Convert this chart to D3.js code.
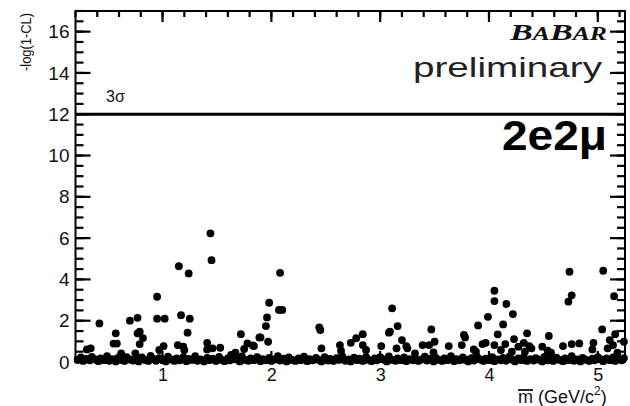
<!DOCTYPE html>
<html>
<head>
<meta charset="utf-8">
<script src="https://cdn.jsdelivr.net/npm/d3@7"></script>
<style>
  body { margin: 0; background: #fff; }
  svg { display: block; font-family: "Liberation Sans", Arial, sans-serif; }
</style>
</head>
<body>
<svg id="chart" width="630" height="406"></svg>
<script>
// points that stand out above the band (mass in GeV/c2, -log(1-CL))
const peaks = [
  [0.42, 1.87], [0.305, 0.61], [0.34, 0.66], [0.57, 1.39], [0.58, 0.89], [0.55, 0.89],
  [0.70, 2.00], [0.77, 2.14], [0.77, 1.39], [0.79, 1.47], [0.82, 1.16], [0.79, 0.87],
  [0.62, 0.42], [0.75, 0.42], [0.95, 3.16], [0.95, 2.10], [1.02, 2.10], [1.01, 0.77],
  [0.97, 0.58], [1.15, 4.64], [1.24, 4.29], [1.17, 2.27], [1.25, 2.10], [1.23, 1.42],
  [1.14, 0.82], [1.19, 0.74], [1.20, 0.58], [1.44, 6.23], [1.45, 4.93], [1.41, 0.93],
  [1.41, 0.61], [1.46, 0.66], [1.53, 0.69], [1.72, 1.35], [1.75, 0.63], [1.78, 0.90],
  [1.83, 0.80], [1.89, 1.19], [1.67, 0.45], [1.63, 0.34], [2.08, 4.32], [1.98, 2.87],
  [2.07, 2.52], [2.10, 2.52], [1.96, 2.16], [1.95, 1.74], [1.97, 0.98], [1.90, 1.19],
  [1.84, 0.77], [2.44, 1.68], [2.45, 1.55], [2.46, 0.66], [2.63, 0.82], [2.64, 0.55],
  [2.73, 0.93], [2.78, 1.15], [2.84, 1.35], [2.84, 0.82], [2.87, 0.58], [3.11, 2.60],
  [3.09, 1.47], [3.08, 1.42], [3.16, 1.74], [3.01, 0.77], [3.15, 0.66], [3.20, 1.06],
  [3.24, 0.77], [3.25, 0.66], [3.32, 0.42], [3.39, 0.82], [3.47, 1.58], [3.50, 0.98],
  [3.45, 0.82], [3.49, 0.47], [3.63, 0.77], [3.77, 1.31], [3.78, 1.19], [3.75, 0.82],
  [3.86, 0.61], [3.88, 0.50], [3.90, 1.77], [3.94, 0.87], [3.97, 0.93], [4.05, 0.82],
  [3.99, 2.19], [4.05, 3.45], [4.05, 2.95], [4.08, 1.34], [4.13, 1.82], [4.16, 2.81],
  [4.22, 2.32], [4.11, 0.58], [4.15, 0.87], [4.21, 0.50], [4.23, 1.11], [4.27, 0.74],
  [4.32, 0.93], [4.35, 1.39], [4.37, 0.77], [4.39, 0.66], [4.33, 0.50], [4.49, 0.74],
  [4.55, 1.26], [4.54, 0.55], [4.57, 0.45], [4.73, 2.92], [4.76, 3.23], [4.74, 4.37],
  [4.68, 0.77], [4.76, 0.87], [4.83, 0.90], [4.96, 0.93], [4.95, 0.61], [5.05, 4.42],
  [5.15, 3.19], [5.04, 1.58], [5.16, 1.35], [5.11, 1.06], [5.14, 0.82], [5.09, 0.66],
  [5.18, 0.45], [5.24, 0.98]
];

// dense row of points close to zero
const band = [
  [0.22, .10], [0.25, .22], [0.27, .05], [0.30, .15], [0.33, .08], [0.35, .25], [0.38, .12],
  [0.41, .04], [0.43, .18], [0.46, .09], [0.49, .28], [0.51, .06], [0.54, .14], [0.57, .03],
  [0.59, .20], [0.62, .10], [0.65, .05], [0.67, .24], [0.70, .12], [0.73, .07], [0.76, .17],
  [0.78, .03], [0.81, .22], [0.84, .10], [0.87, .05], [0.89, .30], [0.92, .14], [0.94, .06],
  [0.97, .19], [1.00, .09], [1.03, .03], [1.05, .26], [1.08, .12], [1.11, .05], [1.13, .18],
  [1.16, .08], [1.19, .23], [1.22, .04], [1.24, .15], [1.27, .10], [1.30, .28], [1.32, .06],
  [1.35, .13], [1.38, .03], [1.41, .20], [1.43, .09], [1.46, .16], [1.49, .05], [1.52, .25],
  [1.54, .11], [1.57, .04], [1.60, .18], [1.62, .08], [1.65, .22], [1.68, .12], [1.71, .03],
  [1.73, .27], [1.76, .10], [1.79, .06], [1.81, .17], [1.84, .09], [1.87, .24], [1.90, .04],
  [1.92, .14], [1.95, .08], [1.98, .20], [2.00, .05], [2.03, .12], [2.06, .28], [2.08, .07],
  [2.11, .16], [2.14, .03], [2.16, .22], [2.19, .10], [2.22, .05], [2.25, .18], [2.27, .09],
  [2.30, .26], [2.33, .04], [2.35, .14], [2.38, .08], [2.41, .20], [2.43, .11], [2.46, .03],
  [2.49, .24], [2.52, .07], [2.54, .15], [2.57, .05], [2.60, .19], [2.62, .10], [2.65, .29],
  [2.68, .06], [2.71, .13], [2.73, .03], [2.76, .21], [2.79, .09], [2.81, .16], [2.84, .05],
  [2.87, .25], [2.89, .11], [2.92, .04], [2.95, .18], [2.97, .08], [3.00, .23], [3.03, .12],
  [3.06, .03], [3.08, .27], [3.11, .10], [3.14, .06], [3.16, .17], [3.19, .09], [3.22, .22],
  [3.24, .04], [3.27, .14], [3.30, .08], [3.32, .20], [3.35, .05], [3.38, .12], [3.41, .26],
  [3.43, .07], [3.46, .16], [3.49, .03], [3.51, .21], [3.54, .10], [3.57, .05], [3.59, .18],
  [3.62, .09], [3.65, .28], [3.68, .04], [3.70, .14], [3.73, .08], [3.76, .22], [3.78, .11],
  [3.81, .03], [3.84, .19], [3.86, .07], [3.89, .25], [3.92, .12], [3.95, .05], [3.97, .16],
  [4.00, .09], [4.03, .23], [4.05, .04], [4.08, .13], [4.11, .08], [4.13, .20], [4.16, .06],
  [4.19, .27], [4.22, .10], [4.24, .03], [4.27, .17], [4.30, .09], [4.32, .22], [4.35, .05],
  [4.38, .14], [4.41, .07], [4.43, .19], [4.46, .11], [4.49, .03], [4.51, .25], [4.54, .08],
  [4.57, .15], [4.59, .05], [4.62, .21], [4.65, .10], [4.68, .04], [4.70, .18], [4.73, .09],
  [4.76, .28], [4.78, .06], [4.81, .13], [4.84, .03], [4.86, .20], [4.89, .11], [4.92, .05],
  [4.95, .16], [4.97, .08], [5.00, .24], [5.03, .12], [5.05, .04], [5.08, .18], [5.11, .09],
  [5.14, .22], [5.16, .05], [5.19, .14], [5.22, .08], [5.24, .19]
];

const xTicks = [1, 2, 3, 4, 5];
const yTicks = [0, 2, 4, 6, 8, 10, 12, 14, 16];
const sigmaLevel = 12;

const svg = d3.select("#chart");

const x = d3.scaleLinear().domain([0.2, 5.25]).range([75.5, 625]);
const y = d3.scaleLinear().domain([0, 17]).range([362, 11]);

const xMinor = d3.range(2, 53, 2).map(v => v / 10);
const yMinor = d3.range(0, 35).map(v => v / 2);
const x0 = x(0.2), x1 = x(5.25), y0 = y(0), y1 = y(17);

// ticks along the four sides, pointing inwards
const frame = svg.append("g").attr("class", "frame");
function tickRow(values, len, horizontal) {
  values.forEach(v => {
    if (horizontal) {
      frame.append("line").attr("x1", x(v)).attr("x2", x(v)).attr("y1", y0).attr("y2", y0 - len);
      frame.append("line").attr("x1", x(v)).attr("x2", x(v)).attr("y1", y1).attr("y2", y1 + len);
    } else {
      frame.append("line").attr("x1", x0).attr("x2", x0 + len).attr("y1", y(v)).attr("y2", y(v));
      frame.append("line").attr("x1", x1).attr("x2", x1 - len).attr("y1", y(v)).attr("y2", y(v));
    }
  });
}
tickRow(xMinor, 6, true);
tickRow(xTicks, 11, true);
tickRow(yMinor, 8, false);
tickRow(yTicks, 15, false);
frame.selectAll("line").attr("stroke", "#000").attr("stroke-width", 2.2);

frame.append("rect")
  .attr("x", x0).attr("y", y1)
  .attr("width", x1 - x0).attr("height", y0 - y1)
  .attr("fill", "none").attr("stroke", "#000").attr("stroke-width", 2);

// tick labels
const xLabels = svg.append("g").attr("class", "xaxis").attr("transform", `translate(0,${y0})`)
  .call(d3.axisBottom(x).tickValues(xTicks).tickSize(0).tickPadding(6).tickFormat(d3.format("d")));
const yLabels = svg.append("g").attr("class", "yaxis").attr("transform", `translate(${x0},0)`)
  .call(d3.axisLeft(y).tickValues(yTicks).tickSize(0).tickPadding(6).tickFormat(d3.format("d")));
xLabels.select(".domain").remove();
yLabels.select(".domain").remove();
xLabels.selectAll("text").attr("font-size", 18).attr("fill", "#111");
yLabels.selectAll("text").attr("font-size", 19).attr("fill", "#111");

// 3 sigma line
svg.append("line")
  .attr("x1", x0).attr("x2", x1)
  .attr("y1", y(sigmaLevel)).attr("y2", y(sigmaLevel))
  .attr("stroke", "#000").attr("stroke-width", 3);

svg.append("text")
  .attr("x", 106).attr("y", y(sigmaLevel) - 12)
  .attr("font-size", 16).attr("fill", "#111")
  .text("3σ");

// points
svg.append("g").attr("class", "dots").selectAll("circle")
  .data(band.concat(peaks))
  .join("circle")
  .attr("cx", d => x(d[0]))
  .attr("cy", d => y(d[1]))
  .attr("r", 3.9)
  .attr("fill", "#000");

// labels
const logo = svg.append("text")
  .attr("x", 510).attr("y", 40)
  .attr("font-family", "Liberation Serif, Times New Roman, serif")
  .attr("font-style", "italic").attr("font-weight", "bold")
  .attr("textLength", 97).attr("lengthAdjust", "spacingAndGlyphs")
  .attr("fill", "#111");
[["B", 24], ["A", 18], ["B", 24], ["A", 18], ["R", 18]].forEach(p => {
  logo.append("tspan").attr("font-size", p[1]).text(p[0]);
});

svg.append("text")
  .attr("x", 413).attr("y", 77)
  .attr("font-size", 28).attr("fill", "#222")
  .attr("textLength", 189).attr("lengthAdjust", "spacingAndGlyphs")
  .text("preliminary");

svg.append("text")
  .attr("x", 502).attr("y", 150)
  .attr("font-size", 42).attr("font-weight", "bold").attr("fill", "#000")
  .attr("textLength", 105).attr("lengthAdjust", "spacingAndGlyphs")
  .text("2e2μ");

svg.append("text")
  .attr("transform", "translate(31,13) rotate(-90)")
  .attr("text-anchor", "end")
  .attr("font-size", 15).attr("fill", "#111")
  .attr("textLength", 58).attr("lengthAdjust", "spacingAndGlyphs")
  .text("-log(1-CL)");

// x title with overlined m
svg.append("text")
  .attr("x", 518).attr("y", 403)
  .attr("font-size", 18).attr("fill", "#111")
  .text("m");
svg.append("line")
  .attr("x1", 518).attr("x2", 533)
  .attr("y1", 390).attr("y2", 390)
  .attr("stroke", "#111").attr("stroke-width", 1.8);
const unit = svg.append("text")
  .attr("x", 538).attr("y", 403)
  .attr("font-size", 18).attr("fill", "#111");
unit.append("tspan").text("(GeV/c");
unit.append("tspan").attr("font-size", 12).attr("dy", -8).text("2");
unit.append("tspan").attr("dy", 8).text(")");
</script>
</body>
</html>
